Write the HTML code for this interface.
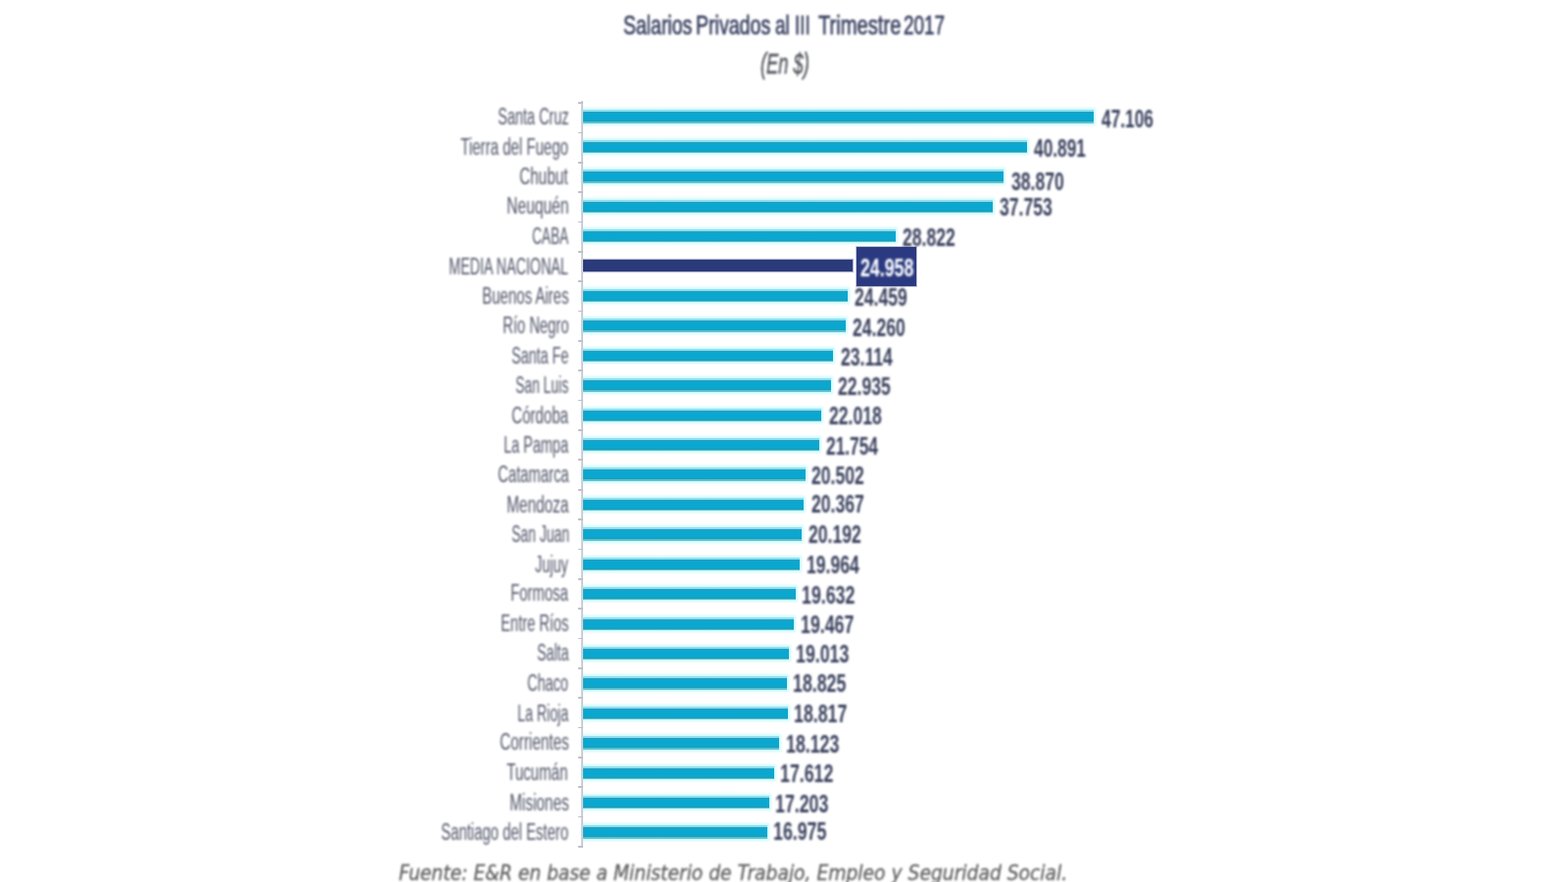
<!DOCTYPE html>
<html lang="es"><head><meta charset="utf-8"><title>Salarios Privados al III Trimestre 2017</title>
<style>
html,body{margin:0;padding:0;background:#fff;}
body{width:1600px;height:900px;overflow:hidden;position:relative;font-family:"Liberation Sans",sans-serif;}
#chart{position:absolute;left:0;top:0;width:1600px;height:900px;overflow:hidden;}
.bar,.box{filter:blur(0.35px);}
#txt{position:absolute;left:0;top:0;width:1600px;height:900px;filter:blur(0.8px);z-index:5;}
.t{position:absolute;white-space:nowrap;line-height:1;transform-origin:0 0;margin:0;}
.title{font-weight:normal;font-size:27.6px;color:#3a4262;-webkit-text-stroke:0.7px #3a4262;}
.sub{font-style:italic;font-size:29px;color:#54575f;-webkit-text-stroke:0.5px #54575f;}
.lab{font-size:23px;color:#4f5468;}
.val{font-size:25.5px;font-weight:bold;color:#383f5c;}
.bar{position:absolute;height:13.4px;background:#10a6cd;background:linear-gradient(#92dfee 0,#8fdeee 1.6px,#2a9cba 1.8px,#22a0c2 2.9px,#0aa8d1 4.2px,#0aa8d1 9.5px,#1a9fb8 11.6px,#55bccc 12px,#62c4d2 13.4px);box-shadow:0 0 2px 1.6px rgba(195,250,253,.8);}
.bar.dk{height:12px;background:#2b3a7a;box-shadow:0 0 1px 0.6px rgba(150,155,190,.7);margin-left:0;}
.axis{position:absolute;left:592.8px;top:103px;width:2.4px;height:761.8px;background:#cdced5;z-index:3;filter:blur(0.5px);}
.tick{position:absolute;left:590px;width:5px;height:1.8px;background:#bfc1c8;z-index:3;filter:blur(0.5px);}
.box{position:absolute;left:874px;top:252px;width:61px;height:39.5px;background:#2b3a80;box-shadow:0 0 0 1px rgba(150,155,190,.6);}
.foot{font-family:"DejaVu Sans","Liberation Sans",sans-serif;font-stretch:condensed;font-style:italic;font-size:20.4px;color:#626262;-webkit-text-stroke:0.3px #626262;}
</style></head><body><div id="chart">
<div class="axis"></div>
<div class="tick" style="top:104.1px"></div>
<div class="tick" style="top:134.5px"></div>
<div class="tick" style="top:164.8px"></div>
<div class="tick" style="top:195.2px"></div>
<div class="tick" style="top:225.5px"></div>
<div class="tick" style="top:255.9px"></div>
<div class="tick" style="top:286.3px"></div>
<div class="tick" style="top:316.6px"></div>
<div class="tick" style="top:347.0px"></div>
<div class="tick" style="top:377.3px"></div>
<div class="tick" style="top:407.7px"></div>
<div class="tick" style="top:438.1px"></div>
<div class="tick" style="top:468.4px"></div>
<div class="tick" style="top:498.8px"></div>
<div class="tick" style="top:529.1px"></div>
<div class="tick" style="top:559.5px"></div>
<div class="tick" style="top:589.9px"></div>
<div class="tick" style="top:620.2px"></div>
<div class="tick" style="top:650.6px"></div>
<div class="tick" style="top:680.9px"></div>
<div class="tick" style="top:711.3px"></div>
<div class="tick" style="top:741.7px"></div>
<div class="tick" style="top:772.0px"></div>
<div class="tick" style="top:802.4px"></div>
<div class="tick" style="top:832.7px"></div>
<div class="tick" style="top:863.1px"></div>
<div class="bar" style="left:594.6px;top:112.4px;width:521.3px"></div>
<div class="bar" style="left:594.6px;top:142.8px;width:453.8px"></div>
<div class="bar" style="left:594.6px;top:173.2px;width:429.5px"></div>
<div class="bar" style="left:594.6px;top:203.7px;width:418.8px"></div>
<div class="bar" style="left:594.6px;top:234.1px;width:319.0px"></div>
<div class="bar dk" style="left:594.6px;top:265.0px;width:275.8px"></div>
<div class="box"></div>
<div class="bar" style="left:594.6px;top:294.9px;width:270.8px"></div>
<div class="bar" style="left:594.6px;top:325.3px;width:268.6px"></div>
<div class="bar" style="left:594.6px;top:355.7px;width:255.0px"></div>
<div class="bar" style="left:594.6px;top:386.2px;width:253.0px"></div>
<div class="bar" style="left:594.6px;top:416.6px;width:243.7px"></div>
<div class="bar" style="left:594.6px;top:447.0px;width:241.6px"></div>
<div class="bar" style="left:594.6px;top:477.4px;width:227.3px"></div>
<div class="bar" style="left:594.6px;top:507.8px;width:225.6px"></div>
<div class="bar" style="left:594.6px;top:538.2px;width:223.1px"></div>
<div class="bar" style="left:594.6px;top:568.7px;width:221.0px"></div>
<div class="bar" style="left:594.6px;top:599.1px;width:217.7px"></div>
<div class="bar" style="left:594.6px;top:629.5px;width:215.3px"></div>
<div class="bar" style="left:594.6px;top:659.9px;width:210.1px"></div>
<div class="bar" style="left:594.6px;top:690.3px;width:208.5px"></div>
<div class="bar" style="left:594.6px;top:720.7px;width:209.3px"></div>
<div class="bar" style="left:594.6px;top:751.2px;width:200.8px"></div>
<div class="bar" style="left:594.6px;top:781.6px;width:195.4px"></div>
<div class="bar" style="left:594.6px;top:812.0px;width:190.6px"></div>
<div class="bar" style="left:594.6px;top:842.4px;width:188.0px"></div>
<div id="txt">
<h1 class="title" style="margin:0;position:absolute;left:0;top:0;line-height:1;white-space:nowrap"><span class="t" style="left:635.80px;top:12.14px;transform:scaleX(0.7041)">Salarios</span> <span class="t" style="left:709.58px;top:12.14px;transform:scaleX(0.7095)">Privados</span> <span class="t" style="left:791.32px;top:12.14px;transform:scaleX(0.6842)">al</span> <span class="t" style="left:811.13px;top:12.14px;transform:scaleX(0.6842)">III</span> <span class="t" style="left:834.50px;top:12.14px;transform:scaleX(0.7304)">Trimestre</span> <span class="t" style="left:922.31px;top:12.14px;transform:scaleX(0.6864)">2017</span></h1>
<div class="t sub" style="left:776.17px;top:50.75px;transform:scaleX(0.6316)">(En $)</div>
<div class="t lab" style="left:507.97px;top:108.15px;transform:scaleX(0.6301)">Santa Cruz</div>
<div class="t val" style="left:1123.52px;top:108.92px;transform:scaleX(0.6792)">47.106</div>
<div class="t lab" style="left:470.45px;top:138.57px;transform:scaleX(0.6548)">Tierra del Fuego</div>
<div class="t val" style="left:1055.35px;top:138.64px;transform:scaleX(0.6792)">40.891</div>
<div class="t lab" style="left:530.43px;top:168.98px;transform:scaleX(0.6671)">Chubut</div>
<div class="t val" style="left:1032.33px;top:172.56px;transform:scaleX(0.6882)">38.870</div>
<div class="t lab" style="left:517.24px;top:199.40px;transform:scaleX(0.6800)">Neuquén</div>
<div class="t val" style="left:1019.58px;top:199.48px;transform:scaleX(0.6882)">37.753</div>
<div class="t lab" style="left:543.01px;top:229.82px;transform:scaleX(0.5934)">CABA</div>
<div class="t val" style="left:921.19px;top:229.89px;transform:scaleX(0.6882)">28.822</div>
<div class="t lab" style="left:458.35px;top:260.94px;transform:scaleX(0.6228)">MEDIA NACIONAL</div>
<div class="t val" style="left:878.20px;top:260.91px;transform:scaleX(0.6961);color:#fff">24.958</div>
<div class="t lab" style="left:491.69px;top:290.65px;transform:scaleX(0.6526)">Buenos Aires</div>
<div class="t val" style="left:872.08px;top:290.73px;transform:scaleX(0.6882)">24.459</div>
<div class="t lab" style="left:512.91px;top:321.07px;transform:scaleX(0.6431)">Río Negro</div>
<div class="t val" style="left:870.38px;top:322.14px;transform:scaleX(0.6882)">24.260</div>
<div class="t lab" style="left:522.38px;top:352.19px;transform:scaleX(0.6242)">Santa Fe</div>
<div class="t val" style="left:857.82px;top:351.56px;transform:scaleX(0.6882)">23.114</div>
<div class="t lab" style="left:526.00px;top:382.30px;transform:scaleX(0.6045)">San Luis</div>
<div class="t val" style="left:855.24px;top:381.98px;transform:scaleX(0.6882)">22.935</div>
<div class="t lab" style="left:521.94px;top:412.82px;transform:scaleX(0.6575)">Córdoba</div>
<div class="t val" style="left:846.11px;top:412.40px;transform:scaleX(0.6882)">22.018</div>
<div class="t lab" style="left:513.74px;top:443.14px;transform:scaleX(0.6291)">La Pampa</div>
<div class="t val" style="left:842.60px;top:442.81px;transform:scaleX(0.6792)">21.754</div>
<div class="t lab" style="left:507.55px;top:473.15px;transform:scaleX(0.6450)">Catamarca</div>
<div class="t val" style="left:828.36px;top:473.23px;transform:scaleX(0.6882)">20.502</div>
<div class="t lab" style="left:516.86px;top:503.87px;transform:scaleX(0.6696)">Mendoza</div>
<div class="t val" style="left:827.97px;top:502.35px;transform:scaleX(0.6882)">20.367</div>
<div class="t lab" style="left:521.59px;top:533.99px;transform:scaleX(0.6063)">San Juan</div>
<div class="t val" style="left:825.43px;top:533.36px;transform:scaleX(0.6882)">20.192</div>
<div class="t lab" style="left:545.97px;top:564.90px;transform:scaleX(0.6264)">Jujuy</div>
<div class="t val" style="left:823.33px;top:564.48px;transform:scaleX(0.6882)">19.964</div>
<div class="t lab" style="left:520.91px;top:593.92px;transform:scaleX(0.6472)">Formosa</div>
<div class="t val" style="left:818.04px;top:594.90px;transform:scaleX(0.6973)">19.632</div>
<div class="t lab" style="left:510.92px;top:624.54px;transform:scaleX(0.6377)">Entre Ríos</div>
<div class="t val" style="left:816.52px;top:625.31px;transform:scaleX(0.6973)">19.467</div>
<div class="t lab" style="left:547.58px;top:655.36px;transform:scaleX(0.6196)">Salta</div>
<div class="t val" style="left:811.70px;top:654.73px;transform:scaleX(0.6973)">19.013</div>
<div class="t lab" style="left:538.37px;top:686.07px;transform:scaleX(0.6277)">Chaco</div>
<div class="t val" style="left:808.62px;top:685.15px;transform:scaleX(0.6973)">18.825</div>
<div class="t lab" style="left:527.97px;top:716.99px;transform:scaleX(0.6171)">La Rioja</div>
<div class="t val" style="left:809.63px;top:715.77px;transform:scaleX(0.6973)">18.817</div>
<div class="t lab" style="left:509.93px;top:745.71px;transform:scaleX(0.6654)">Corrientes</div>
<div class="t val" style="left:802.06px;top:746.98px;transform:scaleX(0.6973)">18.123</div>
<div class="t lab" style="left:516.54px;top:777.32px;transform:scaleX(0.6559)">Tucumán</div>
<div class="t val" style="left:795.72px;top:777.40px;transform:scaleX(0.6973)">17.612</div>
<div class="t lab" style="left:520.26px;top:807.74px;transform:scaleX(0.6682)">Misiones</div>
<div class="t val" style="left:791.20px;top:807.82px;transform:scaleX(0.6973)">17.203</div>
<div class="t lab" style="left:450.35px;top:838.16px;transform:scaleX(0.6472)">Santiago del Estero</div>
<div class="t val" style="left:788.68px;top:836.23px;transform:scaleX(0.6973)">16.975</div>
<div class="t foot" style="left:407.28px;top:880.56px;transform:scaleX(1.0202)">Fuente: E&amp;R en base a Ministerio de Trabajo, Empleo y Seguridad Social.</div>
</div>
</div></body></html>
